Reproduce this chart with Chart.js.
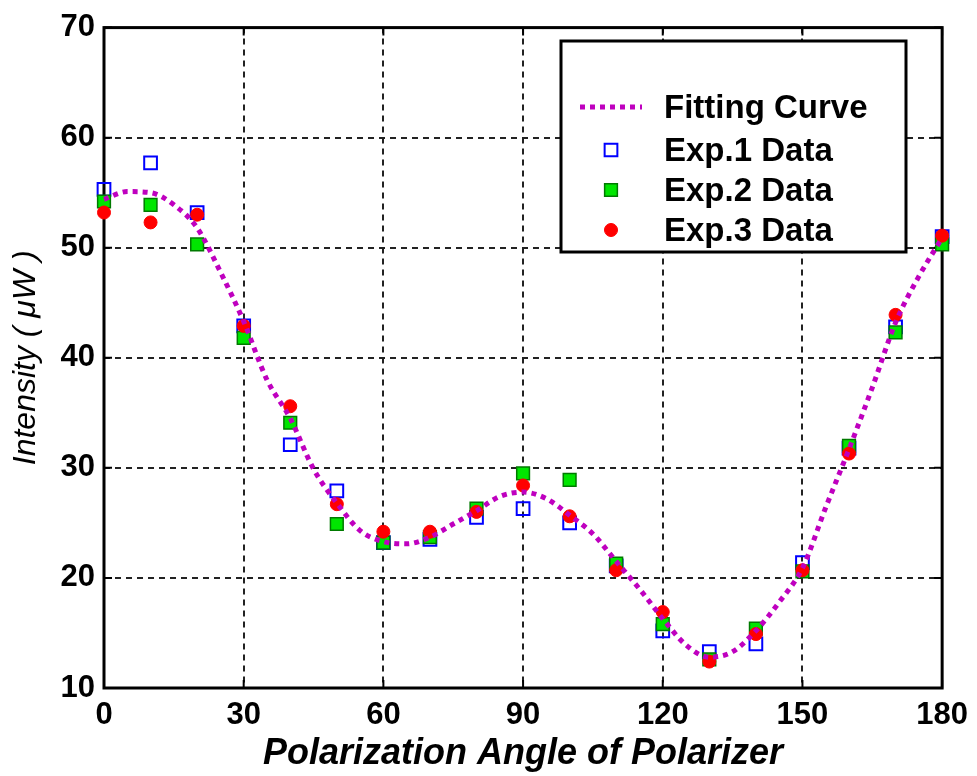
<!DOCTYPE html>
<html>
<head>
<meta charset="utf-8">
<script src="https://cdn.jsdelivr.net/npm/chart.js@4.4.1/dist/chart.umd.min.js"></script>
<style>
	html, body { margin: 0; padding: 0; background: #fff; }
</style>
</head>
<body>
<canvas id="myChart" width="977" height="776"></canvas>
<script>
// measured angles (deg) and intensities (uW)
const angles = [0, 10, 20, 30, 40, 50, 60, 70, 80, 90, 100, 110, 120, 130, 140, 150, 160, 170, 180];
const exp1 = [55.3, 57.7, 53.2, 42.9, 32.1, 27.9, 23.2, 23.5, 25.5, 26.3, 25.0, 21.1, 15.2, 13.3, 14.0, 21.4, 31.8, 42.8, 51.0];
const exp2 = [54.2, 53.9, 50.3, 41.8, 34.1, 24.9, 23.2, 23.7, 26.3, 29.5, 28.9, 21.3, 15.8, 12.6, 15.4, 20.6, 32.0, 42.3, 50.3];
const exp3 = [53.2, 52.3, 53.0, 42.9, 35.6, 26.7, 24.2, 24.2, 26.0, 28.4, 25.6, 20.7, 16.9, 12.4, 14.9, 20.7, 31.3, 43.9, 51.1];

// fitting curve read every 5 deg
const fitAngles = [0, 5, 10, 15, 20, 25, 30, 35, 40, 45, 50, 55, 60, 65, 70, 75, 80, 85, 90, 95, 100, 105, 110, 115, 120, 125, 130, 135, 140, 145, 150, 155, 160, 165, 170, 175, 180];
const fitValues = [54.4, 55.1, 55.0, 53.9, 51.8, 47.8, 43.3, 38.0, 34.5, 29.9, 26.8, 24.3, 23.3, 23.1, 23.7, 24.9, 26.1, 27.4, 27.8, 27.2, 25.7, 24.0, 21.5, 19.0, 16.3, 13.9, 12.8, 13.3, 15.2, 17.8, 20.9, 26.4, 31.7, 37.3, 43.2, 47.4, 50.9];

const xTicks = [0, 30, 60, 90, 120, 150, 180];
const yTicks = [10, 20, 30, 40, 50, 60, 70];

const legendLabels = ['Fitting Curve', 'Exp.1 Data', 'Exp.2 Data', 'Exp.3 Data'];

const toPoints = (xs, ys) => xs.map((x, i) => ({x: x, y: ys[i]}));

// frame + inward ticks, like the original plot box
const frameTicks = {
	id: 'frameTicks',
	beforeDatasetsDraw(chart) {
		const {ctx, chartArea: a, scales} = chart;
		ctx.save();
		ctx.strokeStyle = '#000';
		ctx.lineWidth = 2;
		ctx.setLineDash([]);
		ctx.beginPath();
		xTicks.forEach(v => {
			const px = scales.x.getPixelForValue(v);
			ctx.moveTo(px, a.bottom); ctx.lineTo(px, a.bottom - 8);
			ctx.moveTo(px, a.top); ctx.lineTo(px, a.top + 8);
		});
		yTicks.forEach(v => {
			const py = scales.y.getPixelForValue(v);
			ctx.moveTo(a.left, py); ctx.lineTo(a.left + 8, py);
			ctx.moveTo(a.right, py); ctx.lineTo(a.right - 8, py);
		});
		ctx.stroke();
		ctx.lineWidth = 3;
		ctx.strokeRect(a.left, a.top, a.right - a.left, a.bottom - a.top);
		ctx.restore();
	}
};

// boxed legend inside the plot, top right
const boxLegend = {
	id: 'boxLegend',
	afterDraw(chart) {
		const ctx = chart.ctx;
		const box = {left: 561, top: 41, right: 906, bottom: 252};
		const rowsY = [107, 150, 190, 230];
		ctx.save();
		ctx.fillStyle = '#fff';
		ctx.fillRect(box.left, box.top, box.right - box.left, box.bottom - box.top);
		ctx.strokeStyle = '#000';
		ctx.lineWidth = 3;
		ctx.strokeRect(box.left, box.top, box.right - box.left, box.bottom - box.top);

		chart.data.datasets.forEach((ds, i) => {
			const y = rowsY[i];
			if (ds.showLine) {
				ctx.strokeStyle = ds.borderColor;
				ctx.lineWidth = ds.borderWidth;
				ctx.setLineDash(ds.borderDash);
				ctx.beginPath();
				ctx.moveTo(580, y);
				ctx.lineTo(642, y);
				ctx.stroke();
				ctx.setLineDash([]);
			} else {
				ctx.fillStyle = ds.backgroundColor;
				ctx.strokeStyle = ds.borderColor;
				ctx.lineWidth = ds.borderWidth;
				Chart.helpers.drawPoint(ctx, {
					pointStyle: ds.pointStyle,
					radius: ds.pointRadius,
					rotation: 0,
					borderWidth: ds.borderWidth
				}, 611, y);
			}
			ctx.fillStyle = '#000';
			ctx.font = 'bold 33px "Liberation Sans", Arial, sans-serif';
			ctx.textBaseline = 'middle';
			ctx.textAlign = 'left';
			ctx.fillText(legendLabels[i], 664, y + 2);
		});
		ctx.restore();
	}
};

const ctx = document.getElementById('myChart').getContext('2d');
const myChart = new Chart(ctx, {
	type: 'scatter',
	data: {
		datasets: [{
			label: legendLabels[0],
			data: toPoints(fitAngles, fitValues),
			showLine: true,
			clip: false,
			borderColor: '#bf00bf',
			backgroundColor: '#bf00bf',
			borderWidth: 5,
			borderDash: [5, 5],
			pointRadius: 0,
			cubicInterpolationMode: 'monotone',
			order: 0
		}, {
			label: legendLabels[1],
			data: toPoints(angles, exp1),
			showLine: false,
			clip: false,
			pointStyle: 'rect',
			pointRadius: 9,
			borderWidth: 2,
			borderColor: '#0000ff',
			backgroundColor: 'rgba(255,255,255,0)',
			order: 3
		}, {
			label: legendLabels[2],
			data: toPoints(angles, exp2),
			showLine: false,
			clip: false,
			pointStyle: 'rect',
			pointRadius: 9,
			borderWidth: 1.5,
			borderColor: '#007a00',
			backgroundColor: '#00e600',
			order: 2
		}, {
			label: legendLabels[3],
			data: toPoints(angles, exp3),
			showLine: false,
			clip: false,
			pointStyle: 'circle',
			pointRadius: 6.5,
			borderWidth: 1,
			borderColor: '#ff0000',
			backgroundColor: '#ff0000',
			order: 1
		}]
	},
	options: {
		responsive: false,
		devicePixelRatio: 1,
		animation: false,
		layout: {
			padding: {top: 26, right: 31, left: 0, bottom: 0}
		},
		plugins: {
			legend: {display: false},
			tooltip: {enabled: false}
		},
		scales: {
			x: {
				type: 'linear',
				min: 0,
				max: 180,
				afterFit: (scale) => { scale.height = 88; },
				afterBuildTicks: (scale) => { scale.ticks = xTicks.map(v => ({value: v})); },
				grid: {color: '#222', lineWidth: 2, drawTicks: false},
				border: {display: false, dash: [6, 5]},
				ticks: {
					color: '#000',
					padding: 9,
					maxRotation: 0,
					font: {family: '"Liberation Sans", Arial, sans-serif', size: 31, weight: 'bold'}
				},
				title: {
					display: true,
					text: 'Polarization Angle of Polarizer',
					color: '#000',
					padding: {top: 0, bottom: 0},
					font: {family: '"Liberation Sans", Arial, sans-serif', size: 36, weight: 'bold', style: 'italic'}
				}
			},
			y: {
				type: 'linear',
				min: 10,
				max: 70,
				afterFit: (scale) => { scale.width = 104; },
				afterBuildTicks: (scale) => { scale.ticks = yTicks.map(v => ({value: v})); },
				grid: {color: '#222', lineWidth: 2, drawTicks: false},
				border: {display: false, dash: [6, 5]},
				ticks: {
					color: '#000',
					padding: 9,
					font: {family: '"Liberation Sans", Arial, sans-serif', size: 31, weight: 'bold'}
				},
				title: {
					display: true,
					text: 'Intensity ( μW )',
					color: '#000',
					padding: {top: 7, bottom: 0},
					font: {family: '"Liberation Sans", Arial, sans-serif', size: 32, style: 'italic'}
				}
			}
		}
	},
	plugins: [frameTicks, boxLegend]
});
</script>
</body>
</html>
